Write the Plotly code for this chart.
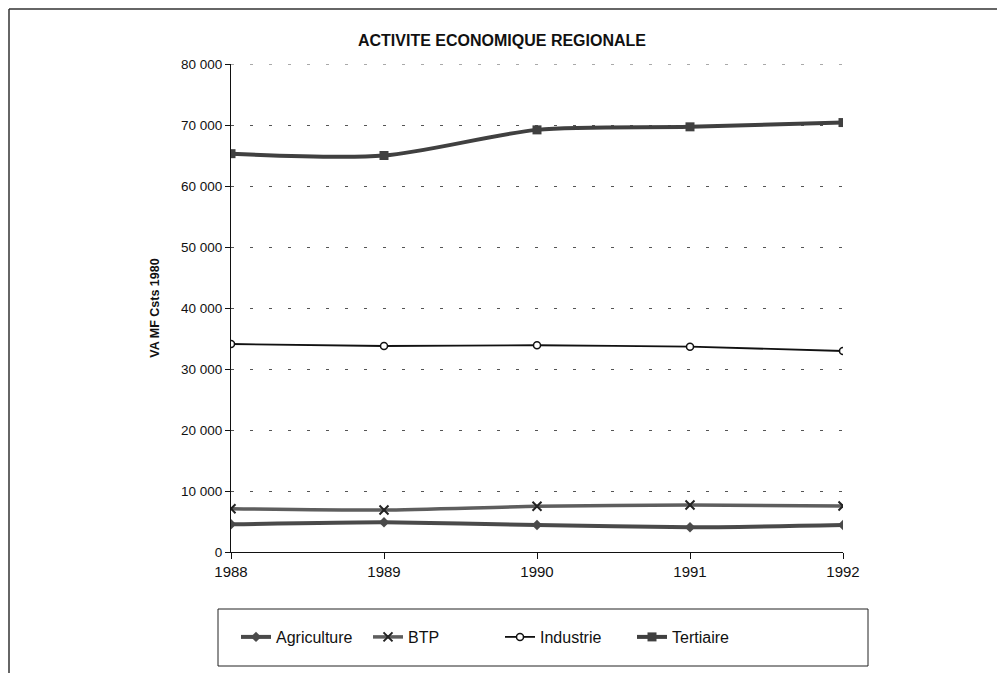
import plotly.graph_objects as go

years = [1988, 1989, 1990, 1991, 1992]
agriculture = [4540, 4870, 4430, 4050, 4430]
btp = [7100, 6890, 7490, 7700, 7540]
industrie = [34100, 33770, 33890, 33660, 32950]
tertiaire = [65300, 65000, 69200, 69700, 70400]

y_tickvals = [0, 10000, 20000, 30000, 40000, 50000, 60000, 70000, 80000]
y_ticktext = ["0", "10 000", "20 000", "30 000", "40 000", "50 000", "60 000", "70 000", "80 000"]

FONT = "Liberation Sans Narrow, Arial Narrow, Liberation Sans, Arial, sans-serif"
SANS = "Liberation Sans, Arial, sans-serif"

fig = go.Figure()
fig.add_trace(go.Scatter(x=years, y=agriculture, name="Agriculture", mode="lines+markers",
                         line=dict(color="#4a4a4a", width=4, shape="spline", smoothing=0.6),
                         marker=dict(symbol="diamond", size=8, color="#4a4a4a")))
fig.add_trace(go.Scatter(x=years, y=btp, name="BTP", mode="lines+markers",
                         line=dict(color="#5e5e5e", width=3.5, shape="spline", smoothing=0.6),
                         marker=dict(symbol="x-thin", size=9, color="#222222",
                                     line=dict(color="#222222", width=2))))
fig.add_trace(go.Scatter(x=years, y=industrie, name="Industrie", mode="lines+markers",
                         line=dict(color="#111111", width=1.8, shape="spline", smoothing=0.6),
                         marker=dict(symbol="circle", size=7, color="white",
                                     line=dict(color="#111111", width=1.5))))
fig.add_trace(go.Scatter(x=years, y=tertiaire, name="Tertiaire", mode="lines+markers",
                         line=dict(color="#404040", width=4, shape="spline", smoothing=0.8),
                         marker=dict(symbol="square", size=9, color="#404040")))

# page has an 8px body margin; figure coordinates are page coordinates minus 8
OFF = 8
W, H = 1005 - OFF, 673 - OFF
L, T = 231 - OFF, 64 - OFF
R = W - (843 - OFF)
B = H - (552 - OFF)
pw = W - L - R
ph = H - T - B

def px_x(px):
    return (px - OFF - L) / pw

def px_y(py):
    return (H - B - (py - OFF)) / ph

shapes = [
    # outer frame (left and top edges visible)
    dict(type="line", xref="paper", yref="paper", x0=px_x(9), x1=px_x(9), y0=px_y(9), y1=px_y(680),
         line=dict(color="#333333", width=1.5)),
    dict(type="line", xref="paper", yref="paper", x0=px_x(9), x1=px_x(1010), y0=px_y(9), y1=px_y(9),
         line=dict(color="#333333", width=1.5)),
    # legend box
    dict(type="rect", xref="paper", yref="paper", x0=px_x(218), x1=px_x(868), y0=px_y(609), y1=px_y(666),
         line=dict(color="#222222", width=1), fillcolor="rgba(0,0,0,0)"),
    # top gridline (hidden by plotly at range edge)
    dict(type="line", xref="paper", yref="y", x0=0, x1=1, y0=y_tickvals[-1], y1=y_tickvals[-1],
         line=dict(color="#555555", width=1, dash="3px,16px")),
]

fig.update_layout(
    width=W, height=H,
    margin=dict(l=L, r=R, t=T, b=B),
    paper_bgcolor="white", plot_bgcolor="white",
    font=dict(family=FONT, color="#111111", size=13),
    title=dict(text="<b>ACTIVITE ECONOMIQUE REGIONALE</b>", x=px_x(502), xref="paper", xanchor="center",
               y=1 - (40 - OFF) / H, yanchor="middle", font=dict(family=SANS, size=16)),
    shapes=shapes,
    showlegend=True,
    legend=dict(orientation="h", x=px_x(236), xanchor="left", y=px_y(637), yanchor="middle",
                font=dict(size=16, family=FONT), bgcolor="rgba(0,0,0,0)", borderwidth=0,
                itemwidth=30, entrywidth=87, traceorder="normal"),
)

fig.update_xaxes(range=[1988, 1992], tickvals=years, ticktext=[str(y) for y in years],
                 showgrid=False, showline=True, linecolor="#111111", linewidth=1.2,
                 ticks="outside", ticklen=6, tickcolor="#111111", zeroline=False,
                 tickfont=dict(size=15, family=FONT))
fig.update_yaxes(range=[0, 80000], tickvals=y_tickvals, ticktext=y_ticktext,
                 showgrid=True, gridcolor="#555555", gridwidth=1, griddash="3px,16px",
                 showline=True, linecolor="#111111", linewidth=1.2,
                 ticks="outside", ticklen=5, tickcolor="#111111", zeroline=False,
                 tickfont=dict(size=13.5, family=SANS),
                 title=dict(text="<b>VA MF Csts 1980</b>", standoff=18,
                            font=dict(size=12.5, family=SANS)))

fig.write_html("out.html")
